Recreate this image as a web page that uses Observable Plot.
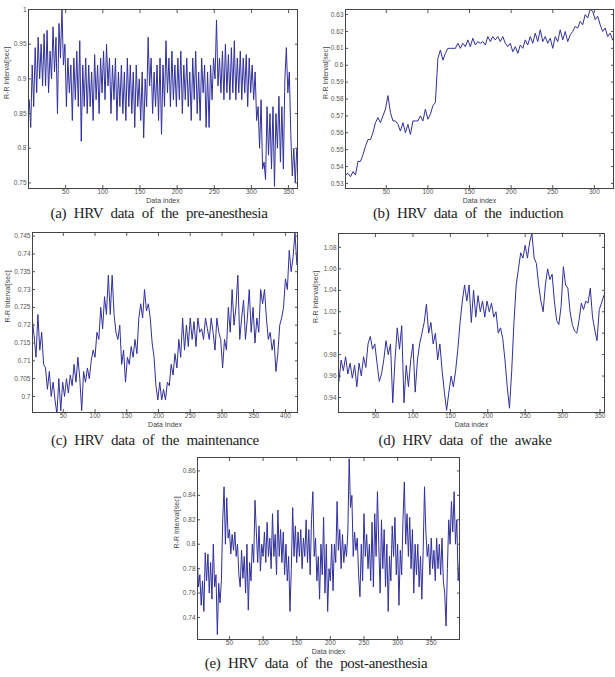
<!DOCTYPE html>
<html><head><meta charset="utf-8">
<script src="https://cdn.jsdelivr.net/npm/d3@7"></script>
<script src="https://cdn.jsdelivr.net/npm/@observablehq/plot@0.6"></script>
<style>
body{margin:0;background:#fff;}
#fig{position:relative;width:615px;height:677px;overflow:hidden;background:#fff;}
.panel{position:absolute;}
.cap{position:absolute;transform:translate(-50%,-50%);white-space:nowrap;font-family:"Liberation Serif","DejaVu Serif",serif;font-size:15px;word-spacing:4px;letter-spacing:-0.3px;color:#222;}
</style></head><body><div id="fig"></div>
<script>
// ---------- data ----------
const captions = [
  "(a) HRV data of the pre-anesthesia",
  "(b) HRV data of the induction",
  "(c) HRV data of the maintenance",
  "(d) HRV data of the awake",
  "(e) HRV data of the post-anesthesia"
];
const xLabels = ["Data index", "Data index", "Data Index", "Data index", "Data index"];
const yLabel = "R-R Interval[sec]";

// (a) pre-anesthesia, samples every 2 indices starting at 1
const preValues = [0.87,0.83,0.92,0.86,0.945,0.88,0.96,0.90,0.95,0.89,0.965,0.89,0.97,0.88,0.94,0.90,0.975,0.91,0.96,0.85,
0.98,0.93,1.0,0.92,0.95,0.86,0.93,0.88,0.92,0.84,0.93,0.87,0.94,0.86,0.955,0.81,0.92,0.86,0.93,0.85,
0.92,0.86,0.91,0.84,0.935,0.87,0.92,0.85,0.93,0.88,0.94,0.87,0.95,0.89,0.93,0.85,0.92,0.87,0.93,0.84,
0.91,0.86,0.92,0.85,0.91,0.84,0.93,0.86,0.92,0.85,0.91,0.83,0.92,0.86,0.90,0.84,0.91,0.815,0.90,0.86,
0.96,0.89,0.93,0.85,0.91,0.86,0.92,0.84,0.93,0.82,0.92,0.86,0.955,0.88,0.93,0.86,0.94,0.87,0.92,0.86,
0.93,0.87,0.94,0.85,0.92,0.87,0.93,0.86,0.91,0.84,0.93,0.87,0.94,0.85,0.91,0.84,0.93,0.88,0.92,0.83,
0.91,0.83,0.92,0.87,0.93,0.90,0.985,0.89,0.93,0.88,0.94,0.87,0.95,0.88,0.935,0.87,0.945,0.88,0.955,0.87,
0.93,0.88,0.94,0.87,0.93,0.88,0.935,0.86,0.93,0.88,0.92,0.87,0.91,0.84,0.86,0.80,0.87,0.77,0.78,0.755,
0.86,0.79,0.85,0.77,0.86,0.745,0.85,0.80,0.875,0.78,0.86,0.77,0.90,0.945,0.88,0.91,0.82,0.76,0.80,0.75,0.80];

// (b) induction, samples every 3 indices starting at 1
const indValues = [0.535,0.536,0.534,0.537,0.535,0.543,0.543,0.547,0.552,0.556,0.556,0.560,0.566,0.569,0.566,0.570,0.574,0.582,0.572,0.567,
0.567,0.565,0.561,0.566,0.560,0.565,0.559,0.567,0.567,0.567,0.570,0.567,0.574,0.568,0.571,0.576,0.578,0.604,0.609,0.603,
0.607,0.610,0.610,0.610,0.610,0.613,0.610,0.613,0.611,0.615,0.611,0.616,0.612,0.614,0.613,0.614,0.612,0.617,0.614,0.617,
0.615,0.617,0.614,0.617,0.613,0.611,0.613,0.608,0.611,0.607,0.612,0.610,0.615,0.612,0.617,0.613,0.619,0.614,0.621,0.614,
0.617,0.613,0.616,0.610,0.617,0.614,0.621,0.615,0.620,0.614,0.618,0.620,0.623,0.622,0.626,0.624,0.630,0.628,0.633,0.632,
0.627,0.629,0.624,0.620,0.622,0.617,0.619,0.615];

// (c) maintenance, samples every 3 indices starting at 1
const mainValues = [0.722,0.717,0.711,0.723,0.713,0.718,0.709,0.708,0.702,0.707,0.700,0.704,0.699,0.695,0.705,0.696,0.704,0.700,0.705,0.701,
0.706,0.703,0.709,0.704,0.711,0.705,0.696,0.707,0.704,0.708,0.705,0.710,0.713,0.711,0.718,0.716,0.725,0.719,0.728,0.723,
0.734,0.723,0.734,0.723,0.718,0.716,0.720,0.709,0.713,0.704,0.711,0.709,0.714,0.711,0.716,0.712,0.722,0.726,0.722,0.730,
0.724,0.726,0.722,0.715,0.711,0.703,0.699,0.704,0.699,0.702,0.699,0.704,0.703,0.709,0.706,0.712,0.708,0.716,0.711,0.722,
0.713,0.720,0.714,0.722,0.716,0.721,0.714,0.722,0.718,0.719,0.716,0.722,0.719,0.716,0.722,0.718,0.713,0.722,0.718,0.716,
0.708,0.716,0.713,0.725,0.718,0.730,0.720,0.725,0.734,0.716,0.722,0.727,0.716,0.722,0.730,0.718,0.725,0.715,0.722,0.718,
0.730,0.726,0.730,0.722,0.716,0.718,0.713,0.716,0.707,0.712,0.720,0.722,0.725,0.733,0.730,0.741,0.735,0.739,0.746,0.737];

// (d) awake, samples every 3 indices starting at 1
const awakeValues = [0.955,0.975,0.965,0.978,0.962,0.972,0.958,0.970,0.950,0.972,0.960,0.978,0.968,0.990,0.997,0.985,0.990,0.972,0.955,0.962,
0.975,0.993,0.980,0.990,0.935,0.975,1.005,0.985,1.007,0.935,0.970,0.950,0.975,0.990,0.945,0.975,0.990,1.000,1.010,1.027,
1.000,1.010,0.990,1.000,0.975,0.990,0.965,0.945,0.928,0.945,0.960,0.950,0.965,0.985,1.010,1.030,1.045,1.030,1.045,1.010,
1.040,1.015,1.035,1.020,1.030,1.015,1.030,1.020,1.028,1.015,1.020,1.000,1.005,0.995,0.975,0.950,0.930,0.965,1.010,1.045,
1.060,1.075,1.070,1.082,1.070,1.085,1.093,1.070,1.065,1.045,1.030,1.020,1.045,1.060,1.050,1.055,1.030,1.012,1.008,1.025,
1.062,1.045,1.042,1.020,1.008,1.002,1.000,1.012,1.028,1.022,1.030,1.028,1.042,1.015,1.003,0.993,1.022,1.028,1.035];

// (e) post-anesthesia, samples every 2 indices starting at 2
const postValues = [0.790,0.765,0.775,0.750,0.770,0.745,0.793,0.770,0.792,0.760,0.785,0.755,0.800,0.765,0.775,0.726,0.768,0.752,0.770,0.820,
0.847,0.800,0.838,0.805,0.812,0.792,0.808,0.795,0.810,0.790,0.800,0.775,0.765,0.795,0.772,0.790,0.760,0.800,0.746,0.785,
0.770,0.800,0.785,0.836,0.810,0.785,0.815,0.778,0.800,0.790,0.810,0.785,0.818,0.790,0.805,0.780,0.825,0.790,0.808,0.775,
0.828,0.790,0.812,0.785,0.810,0.775,0.800,0.770,0.790,0.745,0.780,0.830,0.790,0.815,0.785,0.810,0.790,0.812,0.780,0.805,
0.790,0.820,0.785,0.812,0.775,0.820,0.843,0.790,0.805,0.770,0.790,0.755,0.800,0.775,0.822,0.760,0.800,0.745,0.780,0.770,
0.800,0.762,0.800,0.785,0.835,0.795,0.812,0.780,0.808,0.785,0.800,0.790,0.810,0.870,0.830,0.840,0.790,0.810,0.795,0.805,
0.775,0.757,0.800,0.770,0.825,0.790,0.808,0.780,0.800,0.770,0.818,0.765,0.825,0.790,0.843,0.800,0.760,0.820,0.780,0.812,
0.765,0.800,0.745,0.790,0.770,0.815,0.790,0.822,0.775,0.800,0.750,0.795,0.775,0.820,0.851,0.800,0.825,0.790,0.822,0.780,
0.812,0.760,0.800,0.775,0.800,0.765,0.790,0.755,0.795,0.847,0.810,0.790,0.800,0.775,0.805,0.780,0.795,0.770,0.805,0.780,
0.800,0.775,0.805,0.770,0.760,0.733,0.780,0.820,0.800,0.835,0.810,0.843,0.800,0.820,0.770,0.787];

// sampling (first data index, index step)
const sampleStart = [1, 1, 1, 1, 2];
const sampleStep = [2, 3, 3, 3, 2];

// tick labels
const xTicksA = [50,100,150,200,250,300,350];
const xTicksB = [50,100,150,200,250,300];
const xTicksC = [50,100,150,200,250,300,350,400];
const xTicksD = [50,100,150,200,250,300,350];
const xTicksE = [50,100,150,200,250,300,350];
const yTicksA = [0.75,0.8,0.85,0.9,0.95,1];
const yTicksB = [0.53,0.54,0.55,0.56,0.57,0.58,0.59,0.6,0.61,0.62,0.63];
const yTicksC = [0.7,0.705,0.71,0.715,0.72,0.725,0.73,0.735,0.74,0.745];
const yTicksD = [0.94,0.96,0.98,1,1.02,1.04,1.06,1.08];
const yTicksE = [0.74,0.76,0.78,0.8,0.82,0.84,0.86];

// scale domains
const xDomains = [[0,362],[1,323],[1.5,419],[0.5,356],[2.5,392]];
const yDomains = [[0.742,1.0],[0.527,0.633],[0.6955,0.746],[0.926,1.093],[0.722,0.871]];

// ---------- layout ----------
const series = [preValues, indValues, mainValues, awakeValues, postValues];
const xTicks = [xTicksA, xTicksB, xTicksC, xTicksD, xTicksE];
const yTicks = [yTicksA, yTicksB, yTicksC, yTicksD, yTicksE];
const boxes = [
  {left:0,   top:0,   w:300, h:206, ml:28, mr:3, mt:9,  mb:18, ylx:-22},
  {left:310, top:0,   w:305, h:206, ml:35, mr:2, mt:9,  mb:18, ylx:-20},
  {left:0,   top:222, w:300, h:208, ml:32, mr:3, mt:10, mb:18, ylx:-25},
  {left:305, top:222, w:305, h:208, ml:33, mr:6, mt:11, mb:18, ylx:-23},
  {left:160, top:445, w:305, h:212, ml:37, mr:6, mt:12, mb:18, ylx:-21}
];
const capPos = [[159,213],[468,213],[155,440],[465,440],[316,663]];

const fig = document.getElementById("fig");
const fmt = d => String(+(+d).toFixed(4));
const lineColor = "#30309e";

series.forEach((vals, k) => {
  const b = boxes[k];
  const data = vals.map((v, i) => ({x: sampleStart[k] + i * sampleStep[k], y: v}));
  const chart = Plot.plot({
    width: b.w, height: b.h,
    marginLeft: b.ml, marginRight: b.mr, marginTop: b.mt, marginBottom: b.mb,
    x: {domain: xDomains[k]},
    y: {domain: yDomains[k]},
    style: {fontFamily: "'Liberation Sans', Arial, sans-serif", fontSize: "6.5px", color: "#555", background: "transparent", overflow: "visible"},
    marks: [
      Plot.line(data, {x: "x", y: "y", stroke: lineColor, strokeWidth: 1, clip: true}),
      Plot.axisX(xTicks[k], {anchor: "bottom", tickSize: -3, tickPadding: 4, tickFormat: fmt, label: null}),
      Plot.axisX(xTicks[k], {anchor: "top", tickSize: -3, tickFormat: () => "", label: null}),
      Plot.axisY(yTicks[k], {anchor: "left", tickSize: -3, tickPadding: 5, tickFormat: fmt, label: null}),
      Plot.axisY(yTicks[k], {anchor: "right", tickSize: -3, tickFormat: () => "", label: null}),
      Plot.frame({stroke: "#444"}),
      Plot.text([xLabels[k]], {text: d => d, frameAnchor: "bottom", dy: 14, fontSize: 7, fill: "#444"}),
      Plot.text([yLabel], {text: d => d, frameAnchor: "left", rotate: -90, dx: b.ylx, fontSize: 7, fill: "#444"})
    ]
  });
  const div = document.createElement("div");
  div.className = "panel";
  div.style.left = b.left + "px";
  div.style.top = b.top + "px";
  div.appendChild(chart);
  fig.appendChild(div);

  const cap = document.createElement("div");
  cap.className = "cap";
  cap.style.left = capPos[k][0] + "px";
  cap.style.top = capPos[k][1] + "px";
  cap.textContent = captions[k];
  fig.appendChild(cap);
});
</script>
</body></html>
